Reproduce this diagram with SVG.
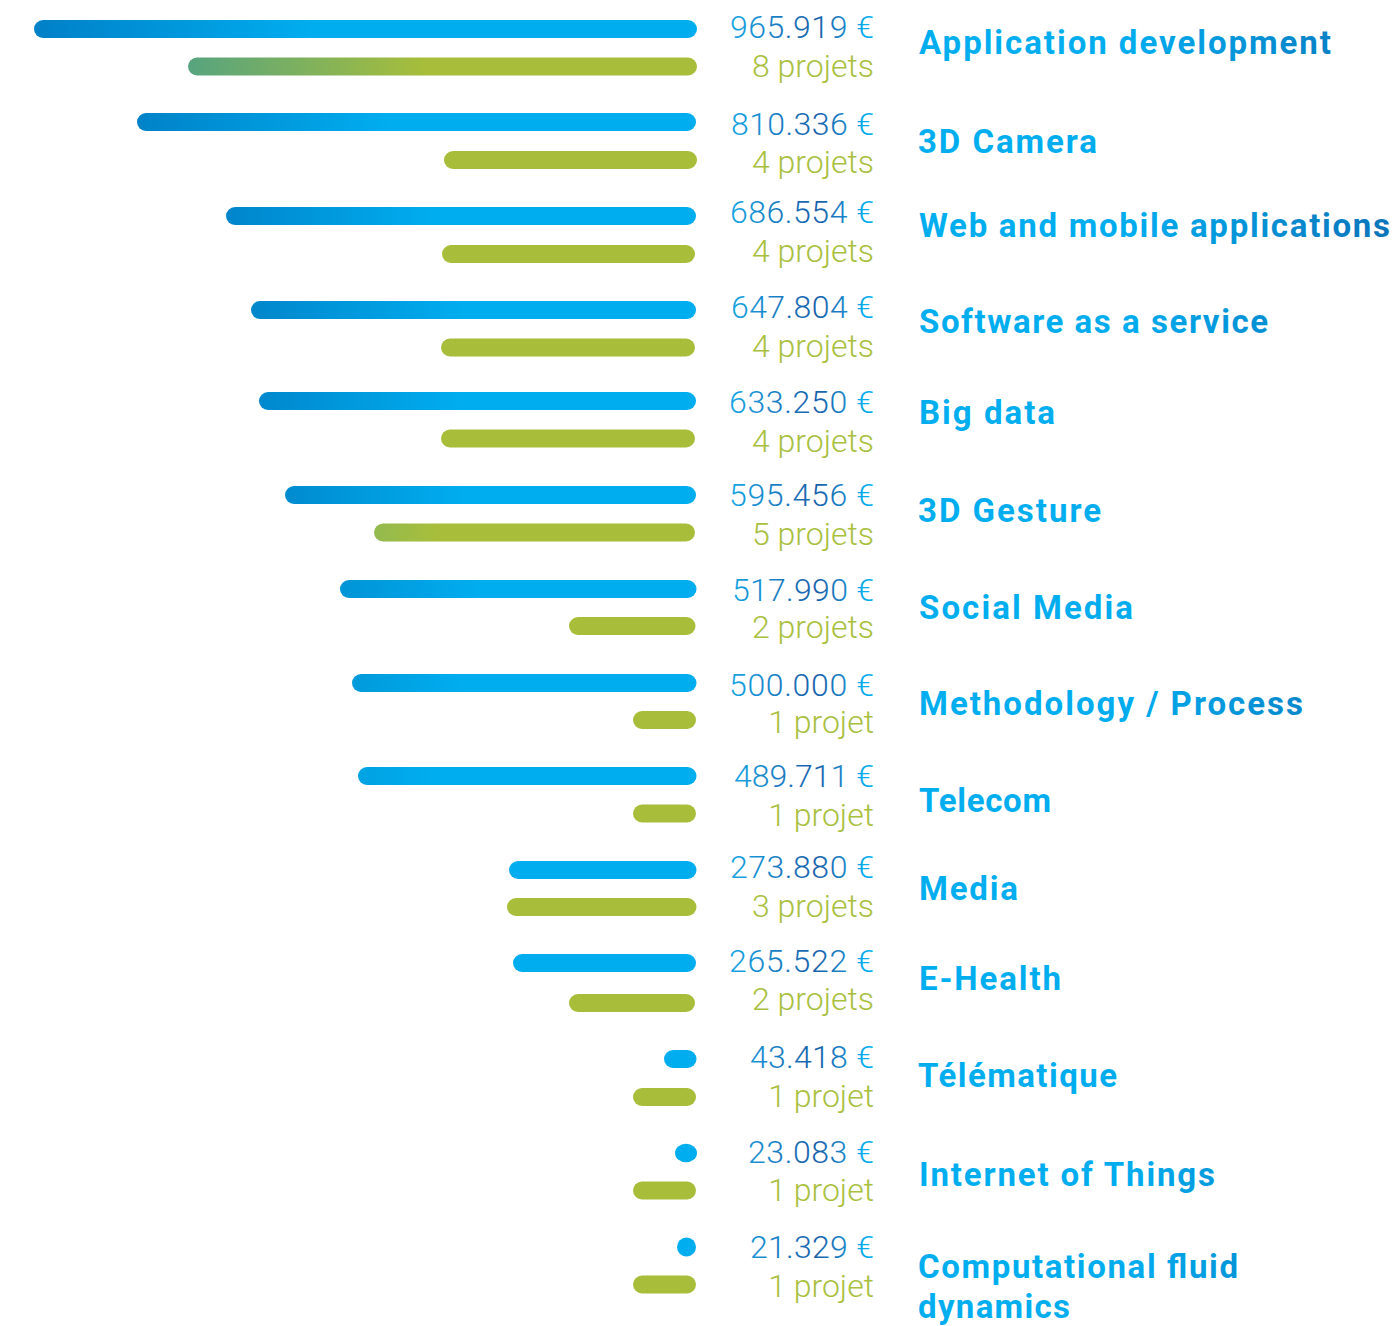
<svg xmlns="http://www.w3.org/2000/svg" width="1398" height="1326" viewBox="0 0 1398 1326">
<defs>
<style>
.amt{font-family:Roboto,"Liberation Sans",sans-serif;font-weight:300;font-size:32px;text-anchor:end;fill:url(#gAmt)}
.prj{font-family:Roboto,"Liberation Sans",sans-serif;font-weight:300;font-size:32px;text-anchor:end;fill:#a9c03f}
.lbl{font-family:Roboto,"Liberation Sans",sans-serif;font-weight:700;font-size:33px;fill:url(#gLbl)}
.bl{fill:#00adef}
.gr{fill:#a8be3a}
</style>
<linearGradient id="gAmt" gradientUnits="userSpaceOnUse" x1="728" y1="0" x2="875" y2="0">
<stop offset="0" stop-color="#15a8e6"/><stop offset="0.4" stop-color="#1a76bd"/><stop offset="0.6" stop-color="#1660ab"/><stop offset="0.8" stop-color="#1a87cb"/><stop offset="0.9" stop-color="#08a9e9"/><stop offset="1" stop-color="#00aeef"/>
</linearGradient>
<linearGradient id="gLbl" gradientUnits="userSpaceOnUse" x1="919" y1="0" x2="1392" y2="0">
<stop offset="0" stop-color="#00aeef"/><stop offset="0.45" stop-color="#00acee"/><stop offset="1" stop-color="#0b74ba"/>
</linearGradient>
<linearGradient id="gb1" x1="0" y1="0" x2="0.42" y2="0"><stop offset="0" stop-color="#0080c7"/><stop offset="1" stop-color="#00adef"/></linearGradient>
<linearGradient id="gb2" x1="0" y1="0" x2="0.45" y2="0"><stop offset="0" stop-color="#0082c8"/><stop offset="1" stop-color="#00adef"/></linearGradient>
<linearGradient id="gb3" x1="0" y1="0" x2="0.44" y2="0"><stop offset="0" stop-color="#0085cb"/><stop offset="1" stop-color="#00adef"/></linearGradient>
<linearGradient id="gb4" x1="0" y1="0" x2="0.48" y2="0"><stop offset="0" stop-color="#0086cb"/><stop offset="1" stop-color="#00adef"/></linearGradient>
<linearGradient id="gb5" x1="0" y1="0" x2="0.46" y2="0"><stop offset="0" stop-color="#0088cd"/><stop offset="1" stop-color="#00adef"/></linearGradient>
<linearGradient id="gb6" x1="0" y1="0" x2="0.44" y2="0"><stop offset="0" stop-color="#008bcf"/><stop offset="1" stop-color="#00adef"/></linearGradient>
<linearGradient id="gb7" x1="0" y1="0" x2="0.39" y2="0"><stop offset="0" stop-color="#0094d6"/><stop offset="1" stop-color="#00adef"/></linearGradient>
<linearGradient id="gb8" x1="0" y1="0" x2="0.32" y2="0"><stop offset="0" stop-color="#009ada"/><stop offset="1" stop-color="#00adef"/></linearGradient>
<linearGradient id="gb9" x1="0" y1="0" x2="0.22" y2="0"><stop offset="0" stop-color="#00a2e2"/><stop offset="1" stop-color="#00adef"/></linearGradient>
<linearGradient id="gg1" x1="0" y1="0" x2="0.47" y2="0"><stop offset="0" stop-color="#57a47f"/><stop offset="1" stop-color="#a8be3a"/></linearGradient>
<linearGradient id="gg6" x1="0" y1="0" x2="0.2" y2="0"><stop offset="0" stop-color="#93ba4f"/><stop offset="1" stop-color="#a8be3a"/></linearGradient>
</defs>
<rect width="1398" height="1326" fill="#ffffff"/>

<g id="row-application-development">
<rect x="34" y="20" width="663" height="18" rx="9" fill="url(#gb1)"/>
<rect x="188" y="57.5" width="509" height="18" rx="9" fill="url(#gg1)"/>
<text class="amt" x="874" y="38" textLength="144" lengthAdjust="spacing">965.919 €</text>
<text class="prj" x="874" y="77">8 projets</text>
<text class="lbl" x="919" y="54" textLength="412" lengthAdjust="spacing">Application development</text>
</g>

<g id="row-3d-camera">
<rect x="137" y="113" width="559" height="18" rx="9" fill="url(#gb2)"/>
<rect x="444" y="151" width="253" height="18" rx="9" class="gr"/>
<text class="amt" x="874" y="135" textLength="143" lengthAdjust="spacing">810.336 €</text>
<text class="prj" x="874" y="173">4 projets</text>
<text class="lbl" x="918" y="153" textLength="179" lengthAdjust="spacing">3D Camera</text>
</g>

<g id="row-web-mobile">
<rect x="226" y="207" width="470" height="18" rx="9" fill="url(#gb3)"/>
<rect x="442" y="245" width="253" height="18" rx="9" class="gr"/>
<text class="amt" x="874" y="223" textLength="144" lengthAdjust="spacing">686.554 €</text>
<text class="prj" x="874" y="262">4 projets</text>
<text class="lbl" x="919" y="237" textLength="471" lengthAdjust="spacing">Web and mobile applications</text>
</g>

<g id="row-saas">
<rect x="251" y="301" width="445" height="18" rx="9" fill="url(#gb4)"/>
<rect x="441" y="338.5" width="254" height="18" rx="9" class="gr"/>
<text class="amt" x="874" y="318" textLength="143" lengthAdjust="spacing">647.804 €</text>
<text class="prj" x="874" y="357">4 projets</text>
<text class="lbl" x="919" y="333" textLength="349" lengthAdjust="spacing">Software as a service</text>
</g>

<g id="row-big-data">
<rect x="259" y="392" width="437" height="18" rx="9" fill="url(#gb5)"/>
<rect x="441" y="429.5" width="254" height="18" rx="9" class="gr"/>
<text class="amt" x="874" y="413" textLength="145" lengthAdjust="spacing">633.250 €</text>
<text class="prj" x="874" y="452">4 projets</text>
<text class="lbl" x="919" y="424" textLength="136" lengthAdjust="spacing">Big data</text>
</g>

<g id="row-3d-gesture">
<rect x="285" y="486" width="411" height="18" rx="9" fill="url(#gb6)"/>
<rect x="374" y="523.5" width="321" height="18" rx="9" fill="url(#gg6)"/>
<text class="amt" x="874" y="506" textLength="145" lengthAdjust="spacing">595.456 €</text>
<text class="prj" x="874" y="545">5 projets</text>
<text class="lbl" x="918" y="522" textLength="183" lengthAdjust="spacing">3D Gesture</text>
</g>

<g id="row-social-media">
<rect x="340" y="580" width="356.5" height="18" rx="9" fill="url(#gb7)"/>
<rect x="569" y="617" width="126.5" height="18" rx="9" class="gr"/>
<text class="amt" x="874" y="601" textLength="142" lengthAdjust="spacing">517.990 €</text>
<text class="prj" x="874" y="638">2 projets</text>
<text class="lbl" x="919" y="619" textLength="214" lengthAdjust="spacing">Social Media</text>
</g>

<g id="row-methodology">
<rect x="352" y="674" width="344.5" height="18" rx="9" fill="url(#gb8)"/>
<rect x="633" y="711" width="63" height="18" rx="9" class="gr"/>
<text class="amt" x="874" y="696" textLength="145" lengthAdjust="spacing">500.000 €</text>
<text class="prj" x="874" y="733">1 projet</text>
<text class="lbl" x="919" y="715" textLength="384" lengthAdjust="spacing">Methodology / Process</text>
</g>

<g id="row-telecom">
<rect x="358" y="767" width="338.5" height="18" rx="9" fill="url(#gb9)"/>
<rect x="633" y="804.5" width="63" height="18" rx="9" class="gr"/>
<text class="amt" x="874" y="787" textLength="140" lengthAdjust="spacing">489.711 €</text>
<text class="prj" x="874" y="826">1 projet</text>
<text class="lbl" x="919" y="812" textLength="132" lengthAdjust="spacing">Telecom</text>
</g>

<g id="row-media">
<rect x="509" y="861" width="187.5" height="18" rx="9" class="bl"/>
<rect x="507" y="898" width="189.5" height="18" rx="9" class="gr"/>
<text class="amt" x="874" y="878" textLength="144" lengthAdjust="spacing">273.880 €</text>
<text class="prj" x="874" y="917">3 projets</text>
<text class="lbl" x="919" y="900" textLength="99" lengthAdjust="spacing">Media</text>
</g>

<g id="row-e-health">
<rect x="513" y="954" width="183" height="18" rx="9" class="bl"/>
<rect x="569" y="994" width="126" height="18" rx="9" class="gr"/>
<text class="amt" x="874" y="972" textLength="145" lengthAdjust="spacing">265.522 €</text>
<text class="prj" x="874" y="1010">2 projets</text>
<text class="lbl" x="919" y="990" textLength="142" lengthAdjust="spacing">E-Health</text>
</g>

<g id="row-telematique">
<rect x="664" y="1050" width="32.5" height="18" rx="9" class="bl"/>
<rect x="633" y="1088" width="63" height="18" rx="9" class="gr"/>
<text class="amt" x="874" y="1068" textLength="124" lengthAdjust="spacing">43.418 €</text>
<text class="prj" x="874" y="1107">1 projet</text>
<text class="lbl" x="918" y="1087" textLength="199" lengthAdjust="spacing">Télématique</text>
</g>

<g id="row-iot">
<ellipse cx="686" cy="1153" rx="11" ry="9.3" class="bl"/>
<rect x="633" y="1181.5" width="63" height="18" rx="9" class="gr"/>
<text class="amt" x="874" y="1163" textLength="126" lengthAdjust="spacing">23.083 €</text>
<text class="prj" x="874" y="1201">1 projet</text>
<text class="lbl" x="919" y="1186" textLength="296" lengthAdjust="spacing">Internet of Things</text>
</g>

<g id="row-cfd">
<circle cx="686.5" cy="1247" r="9.5" class="bl"/>
<rect x="633" y="1275.5" width="63" height="18" rx="9" class="gr"/>
<text class="amt" x="874" y="1258" textLength="124" lengthAdjust="spacing">21.329 €</text>
<text class="prj" x="874" y="1297">1 projet</text>
<text class="lbl" x="918" y="1278" textLength="320" lengthAdjust="spacing">Computational fluid</text>
<text class="lbl" x="918" y="1318" textLength="152" lengthAdjust="spacing">dynamics</text>
</g>
</svg>
